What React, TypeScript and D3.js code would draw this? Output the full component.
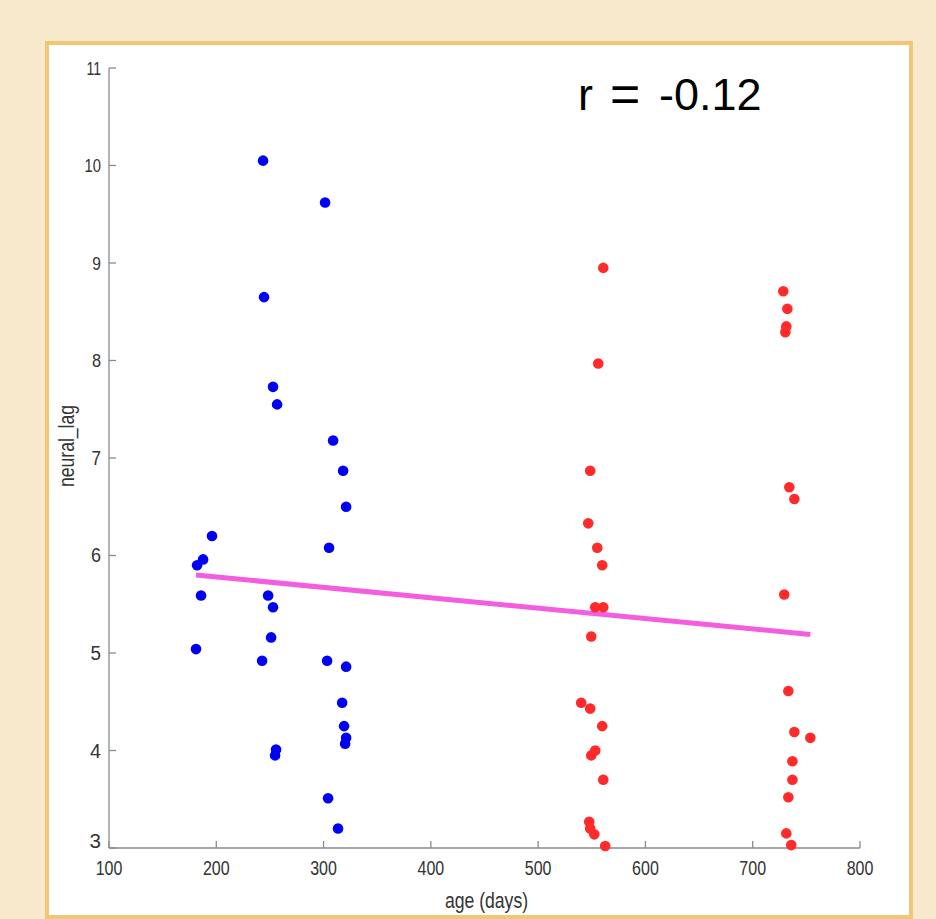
import React from "react";
import * as d3 from "d3";

const blueAge = [243.6, 301.4, 244.5, 252.9, 256.7, 308.9, 318.2, 321.0, 305.1, 196.0, 187.7, 182.1, 185.8, 181.1, 248.3, 252.9, 251.1, 242.7, 303.3, 321.0, 317.3, 319.1, 321.0, 320.1, 255.7, 254.8, 304.2, 313.5];
const blueLag = [10.05, 9.62, 8.65, 7.73, 7.55, 7.18, 6.87, 6.50, 6.08, 6.20, 5.96, 5.90, 5.59, 5.04, 5.59, 5.47, 5.16, 4.92, 4.92, 4.86, 4.49, 4.25, 4.13, 4.07, 4.01, 3.95, 3.51, 3.20];

const redAge = [560.7, 556.0, 548.5, 546.7, 555.1, 559.7, 553.2, 560.7, 549.5, 540.1, 548.5, 559.7, 553.2, 549.5, 560.7, 547.6, 548.5, 552.3, 562.5,
  728.5, 732.3, 731.3, 730.4, 734.1, 738.8, 729.4, 733.2, 738.8, 753.7, 737.0, 737.0, 733.2, 731.3, 735.9];
const redLag = [8.95, 7.97, 6.87, 6.33, 6.08, 5.90, 5.47, 5.47, 5.17, 4.49, 4.43, 4.25, 4.00, 3.95, 3.70, 3.27, 3.20, 3.14, 3.02,
  8.71, 8.53, 8.35, 8.29, 6.70, 6.58, 5.60, 4.61, 4.19, 4.13, 3.89, 3.70, 3.52, 3.15, 3.03];

const fitAge = [181.1, 753.7];
const fitLag = [5.80, 5.19];

const xTicks = [100, 200, 300, 400, 500, 600, 700, 800];
const yTicks = [3, 4, 5, 6, 7, 8, 9, 10, 11];
const rParts = ["r", "=", "-0.12"];

export default function App() {
  const x = d3.scaleLinear().domain([100, 800]).range([109, 860]);
  const y = d3.scaleLinear().domain([3, 11]).range([848, 68]);
  const line = d3.line<number>().x((d, i) => x(fitAge[i])).y((d, i) => y(fitLag[i]));
  const font = "'Liberation Sans', Arial, Helvetica, sans-serif";
  return (
    <div style={{ position: "fixed", left: 0, top: 0, width: 936, height: 919, overflow: "hidden" }}>
      <svg width={936} height={919} style={{ display: "block" }}>
        <rect x={0} y={0} width={936} height={919} fill="#f9e9cc" />
        <rect x={47} y={43} width={864} height={874} fill="#ffffff" stroke="#f1c677" strokeWidth={4} />
        {/* axes */}
        <line x1={x(100)} x2={x(800)} y1={y(3)} y2={y(3)} stroke="#8a8a8a" strokeWidth={1.3} />
        <line x1={x(100)} x2={x(100)} y1={y(3)} y2={y(11)} stroke="#8a8a8a" strokeWidth={1.3} />
        {xTicks.map((t) => (
          <g key={"xt" + t}>
            <line x1={x(t)} x2={x(t)} y1={y(3)} y2={y(3) - 7} stroke="#8a8a8a" strokeWidth={1.3} />
            <text transform={`translate(${x(t)},${y(3) + 20}) scale(0.8,1)`} textAnchor="middle" dominantBaseline="central" fontFamily={font} fontSize={20} fill="#333">{t}</text>
          </g>
        ))}
        {yTicks.map((t) => {
          const f = (11 - t) / 8;
          const fs = 18 + f * 3;
          const sx = 0.78 + f * 0.2;
          return (
            <g key={"yt" + t}>
              <line x1={x(100)} x2={x(100) + 7} y1={y(t)} y2={y(t)} stroke="#8a8a8a" strokeWidth={1.3} />
              <text transform={`translate(${x(100) - 8},${t === 3 ? y(t) - 8 : y(t)}) scale(${sx},1)`} textAnchor="end" dominantBaseline="central" fontFamily={font} fontSize={fs} fill="#333">{t}</text>
            </g>
          );
        })}
        <text transform={`translate(${(x(100) + x(800)) / 2 + 2},${y(3) + 52}) scale(0.8,1)`} textAnchor="middle" dominantBaseline="central" fontFamily={font} fontSize={22} fill="#333">age (days)</text>
        <text transform={`translate(66,${(y(3) + y(11)) / 2 - 12}) rotate(-90) scale(0.8,1)`} textAnchor="middle" dominantBaseline="central" fontFamily={font} fontSize={22} fill="#333">neural_lag</text>
        {/* regression line */}
        <path d={line(fitAge) || ""} fill="none" stroke="#f55de0" strokeWidth={5} />
        {/* points */}
        {blueAge.map((a, i) => (
          <circle key={"b" + i} cx={x(a)} cy={y(blueLag[i])} r={5.3} fill="#0000f5" />
        ))}
        {redAge.map((a, i) => (
          <circle key={"r" + i} cx={x(a)} cy={y(redLag[i])} r={5.3} fill="#ff2b2b" />
        ))}
        <text y={110} fontFamily={font} fontSize={45} fill="#000">
          <tspan x={578}>{rParts[0]}</tspan>
          <tspan x={610} fontSize={52} dy={2}>{rParts[1]}</tspan>
          <tspan x={659} dy={-2}>{rParts[2]}</tspan>
        </text>
      </svg>
    </div>
  );
}
